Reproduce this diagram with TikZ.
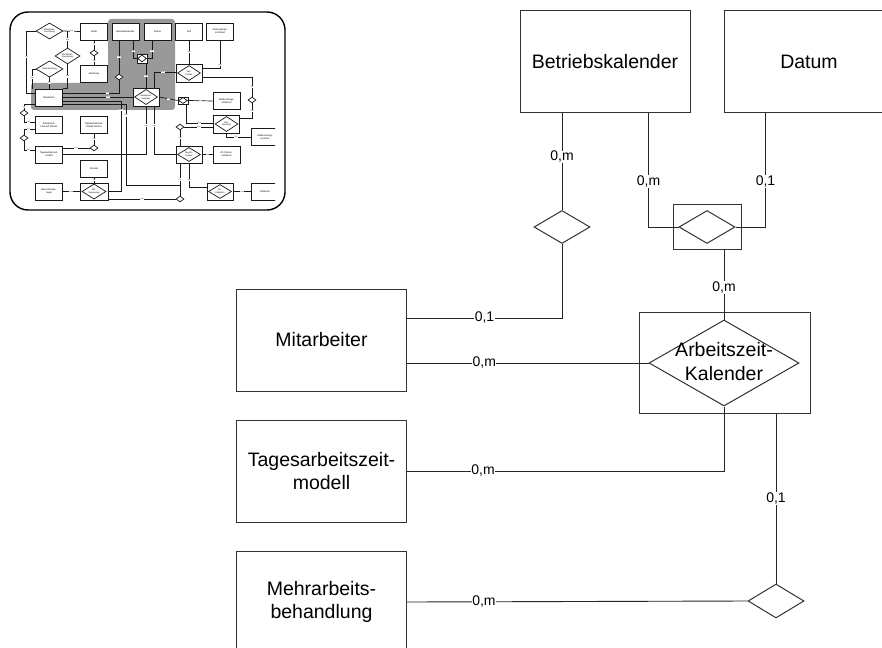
\documentclass[tikz,border=0pt]{standalone}
\usepackage{fontspec}
\setmainfont{Liberation Sans}
\usetikzlibrary{shapes.geometric,calc}
\begin{document}
\begin{tikzpicture}[x=1pt,y=-1pt,
  ent/.style={draw=black!80, line width=1pt, minimum width=170pt, minimum height=102pt, inner sep=0pt, align=center, font=\fontsize{19.5}{23.5}\selectfont},
  rbox/.style={draw=black!80, line width=1pt, inner sep=0pt},
  rdia/.style={draw=black!80, line width=1pt, diamond, inner sep=0pt},
  conn/.style={draw=black!85, line width=0.9pt},
  card/.style={fill=white, inner sep=0.5pt, font=\fontsize{14}{14}\selectfont},
  tbx/.style={draw=black!90, line width=0.8pt, fill=white, minimum width=27pt, minimum height=17pt, inner sep=0pt, align=center, font=\fontsize{2.4}{2.8}\selectfont},
  tdi/.style={draw=black!90, line width=0.7pt, fill=white, diamond, inner sep=0pt, align=center, font=\fontsize{2.2}{2.5}\selectfont},
  tln/.style={draw=black!90, line width=0.7pt},
  tc/.style={fill=white, inner sep=0.4pt, font=\fontsize{1.8}{1.8}\selectfont}]
\useasboundingbox (0,0) rectangle (882,647);
\clip (0,0) rectangle (882,647);
\fill[white] (0,0) rectangle (882,647);

% ---------------- thumbnail ----------------
\fill[black!40, rounded corners=3pt] (108,19) -- (175,19) -- (175,110) -- (31,110) -- (31,83) -- (108,83) -- cycle;

\node[tbx] (tSt) at (94,31.5) {Stelle};
\node[tbx] (tBK) at (125.5,31.5) {Betriebskalender};
\node[tbx] (tDa) at (157.5,31.5) {Datum};
\node[tbx] (tZe) at (189,31.5) {Zeit};
\node[tbx] (tZv) at (220,31.5) {Zeitvorgangs-\\schlüssel};
\node[tbx] (tAb) at (94,73.5) {Abteilung};
\node[tbx] (tMi) at (49,97.5) {Mitarbeiter};
\node[tbx, minimum width=26pt, minimum height=18pt] (tAKb) at (146,97) {};
\node[tdi, minimum width=23pt, minimum height=15pt] (tAK) at (146,97) {Arbeitszeit-\\Kalender};
\node[tbx, minimum width=26pt, minimum height=18pt] (tZPb) at (189,73) {};
\node[tdi, minimum width=23pt, minimum height=15pt] (tZP) at (189,73) {Zeit-\\Posten};
\node[tbx, minimum width=10pt, minimum height=9pt] (tW1) at (142,58.5) {};
\node[tdi, minimum width=9pt, minimum height=7pt] (tW1d) at (142,58.5) {};
\node[tdi, minimum width=8pt, minimum height=6pt] (tD1) at (119,77) {};
\node[tbx] (tZbs) at (226.5,101) {Zeitbuchungs-\\schlüssel};
\node[tbx, minimum width=10pt, minimum height=7pt] (tW2b) at (183,100.5) {};
\node[tdi, minimum width=9pt, minimum height=6pt] (tW2) at (183,100.5) {};
\node[tdi, minimum width=8pt, minimum height=6pt] (tD2) at (252,100) {};
\node[tbx, minimum width=26pt, minimum height=18pt] (tZBb) at (226.5,124) {};
\node[tdi, minimum width=23pt, minimum height=15pt] (tZB) at (226.5,124) {Zeit-\\buchung};
\begin{scope}
\clip (0,0) rectangle (275,647);
\node[tbx, minimum width=28pt] (tZbn) at (265,137) {Zeitbuchungs-\\nummer};
\node[tbx, minimum width=28pt] (tZK) at (265,191.5) {Zeitkonto};
\end{scope}
\node[tdi, minimum width=8pt, minimum height=6pt] (tD3) at (180,127) {};
\node[tbx, minimum width=26pt, minimum height=17pt] (tTZKb) at (189,154.5) {};
\node[tdi, minimum width=23pt, minimum height=14pt] (tTZK) at (189,154.5) {Tag-ZK-\\Posten};
\node[tbx] (tZKs) at (226.5,154.5) {ZK-Posten-\\schlüssel};
\node[tbx, minimum width=26pt, minimum height=17pt] (tZKZb) at (220,191.5) {};
\node[tdi, minimum width=23pt, minimum height=14pt] (tZKZ) at (220,191.5) {ZK-\\Zeitkonto};
\node[tdi, minimum width=8pt, minimum height=6pt] (tD4) at (180,199) {};
\node[tdi, minimum width=27pt, minimum height=16pt] (tGS) at (49.5,31) {Mitarbeiter-\\Zuordnung};
\node[tdi, minimum width=25pt, minimum height=16pt] (tMS) at (67.5,56) {Mit-Stellen-\\Zuordnung};
\node[tdi, minimum width=27pt, minimum height=16pt] (tSV) at (49.5,69) {Stellvertretung};
\node[tdi, minimum width=8pt, minimum height=6pt] (tD5) at (94,53) {};
\node[tbx] (tAIP) at (49,125) {Arbeitszeit-\\Intervall Planen};
\node[tbx] (tTV) at (94,125) {Tagesarbeitszeit-\\modell Version};
\node[tdi, minimum width=8pt, minimum height=6pt] (tD6) at (94,148) {};
\node[tbx] (tTAM) at (49,154.5) {Tagesarbeitszeit-\\modell};
\node[tdi, minimum width=8pt, minimum height=6pt] (tD7) at (24,113) {};
\node[tdi, minimum width=8pt, minimum height=6pt] (tD8) at (24,138) {};
\node[tbx] (tPe) at (94,168.5) {Periode};
\node[tbx] (tBR) at (49,191.5) {Berechnungs-\\regel};
\node[tbx, minimum width=28pt, minimum height=17pt] (tMZb) at (94,191.5) {};
\node[tdi, minimum width=24pt, minimum height=14pt] (tMZ) at (94,191.5) {Mit-\\Zuordnung};

\draw[tln] (tGS.east) -- node[tc]{0,m} (tSt.west);
\draw[tln] (tGS.west) -- ++(-9,0) |- node[tc,pos=.21]{0,1} ($(tMi.west)+(0,-4.5)$);
\draw[tln] (tMS.north) -- node[tc]{0,m} (tMS.north |- tSt.west);
\draw[tln] (tMS.south) |- node[tc,pos=.25]{0,m} (tMi.north east);
\draw[tln] (tSV.west) -| node[tc,pos=.72]{0,m} ($(tMi.north west)+(-3,0)$);
\draw[tln] (tSV.south) -- node[tc]{0,1} (tSV.south |- tMi.north);
\draw[tln] (tSt.south) -- node[tc,pos=.4]{0,1} (tD5.north);
\draw[tln] (tD5.south) -- node[tc,pos=.6]{0,m} (tAb.north);
\draw[tln] (tBK.south -| tD1.north) -- node[tc]{0,m} (tD1.north);
\draw[tln] (tD1.south) |- node[tc,pos=.6]{0,1} ($(tMi.east)+(0,-4.5)$);
\draw[tln] ($(tBK.south east)+(-6,0)$) |- node[tc,pos=.3]{0,m} (tW1.west);
\draw[tln] ($(tDa.south west)+(8.5,0)$) |- node[tc,pos=.3]{0,1} (tW1.east);
\draw[tln] (tAK.north |- tW1.south) -- node[tc]{0,m} (tAK.north);
\draw[tln] ($(tMi.east)+(0,-0.5)$) -- node[tc,pos=.63]{0,m} (tAK.west);
\draw[tln] ($(tMi.east)+(0,3.5)$) -- ++(58,0) |- node[tc,pos=.05]{0,m} (tMZb.east);
\draw[tln] ($(tMi.east)+(0,6.5)$) -- ++(63,0) |- node[tc,pos=.07]{0,m} ($(tD4.north)+(0,-10)$);
\draw[tln] (tAKb.south) |- node[tc,pos=.2]{0,m} (tTAM.east);
\draw[tln] ($(tAKb.south)+(8,0)$) |- node[tc,pos=.2]{0,m} (tTZKb.west);
\draw[tln] ($(tTAM.east)+(0,-6.5)$) -- node[tc]{0,m} (tD6.west);
\draw[tln] (tD6.north) -- node[tc]{0,m} (tTV.south);
\draw[tln] (tD7.north) |- node[tc,pos=.25]{0,m} ($(tMi.west)+(0,6.5)$);
\draw[tln] (tD7.south) |- node[tc,pos=.7]{0,m} ($(tAIP.west)+(0,-3)$);
\draw[tln] (tD8.north) |- node[tc,pos=.7]{0,1} ($(tAIP.west)+(0,4)$);
\draw[tln] (tD8.south) |- node[tc,pos=.7]{0,m} ($(tTAM.west)+(0,-4.5)$);
\draw[tln] (tPe.south) -- node[tc]{0,m} (tMZb.north);
\draw[tln] (tBR.east) -- node[tc]{0,m} (tMZb.west);
\draw[tln] ($(tMZb.east)+(0,7.5)$) -- node[tc]{0,m} (tD4.west);
\draw[tln] (tD4.north) -- node[tc]{0,1} (tD4.north |- tTZKb.south);
\draw[tln] (tTZKb.south) |- node[tc,pos=.35]{0,m} ($(tZKZb.west)+(0,-4)$);
\draw[tln] (tZKZb.east) -- node[tc]{0,m} (tZK.west);
\draw[tln] (tAKb.east) -- node[tc]{0,m} (tW2b.west);
\draw[tln] (tW2b.east) -- node[tc]{0,m} (tZbs.west);
\draw[tln] ($(tW2b.south)+(3,0)$) |- node[tc,pos=.75]{0,m} ($(tZBb.west)+(0,-1)$);
\draw[tln] (tD3.east) -- node[tc]{0,m} ($(tZBb.west)+(0,3)$);
\draw[tln] (tD3.south) -- node[tc]{0,m} (tD3.south |- tTZKb.north);
\draw[tln] (tZe.south) -- node[tc]{0,m} (tZPb.north);
\draw[tln] ($(tZPb.east)+(0,-5)$) -| node[tc,pos=.55]{0,m} (tZv.south);
\draw[tln] ($(tZPb.west)+(0,-1)$) -| node[tc,pos=.3]{0,m} ($(tAKb.north)+(8,0)$);
\draw[tln] ($(tZPb.east)+(0,4)$) -| node[tc,pos=.75]{0,1} (tD2.north);
\draw[tln] (tD2.south) |- node[tc,pos=.25]{0,m} ($(tZBb.east)+(0,-6)$);
\draw[tln] (tZBb.south) |- node[tc,pos=.7]{0,1} (tZbn.west);
\draw[tln] (tTZKb.east) -- node[tc]{0,m} (tZKs.west);

\draw[line width=1.4pt, rounded corners=18pt] (10,12) rectangle (285,210);

% ---------------- main diagram ----------------
\node[ent] (bk) at (605,62) {Betriebskalender};
\node[ent] (dat) at (809,62) {Datum};
\node[ent] (mit) at (321.5,340) {Mitarbeiter};
\node[ent] (tag) at (321.5,471) {Tagesarbeitszeit-\\modell};
\node[ent] (meh) at (321.5,602) {Mehrarbeits-\\behandlung};
\node[rbox, minimum width=171pt, minimum height=101pt] (akbox) at (724.5,362.5) {};
\node[rdia, minimum width=150pt, minimum height=86pt] (ak) at (724,363) {};
\node[align=center, inner sep=0pt, font=\fontsize{19.5}{24}\selectfont] (aktext) at (724,362) {Arbeitszeit-\\Kalender};
\node[rdia, minimum width=56pt, minimum height=33pt] (r1) at (562,227) {};
\node[rbox, minimum width=68pt, minimum height=45pt] (wbox) at (707,226.5) {};
\node[rdia, minimum width=56pt, minimum height=33pt] (wdia) at (707,227) {};
\node[rdia, minimum width=56pt, minimum height=34pt] (r2) at (776,601) {};

\draw[conn] (bk.south -| r1.north) -- node[card,pos=.45]{0,m} (r1.north);
\draw[conn] ($(mit.east)+(0,-22)$) -| node[card,pos=.25]{0,1} (r1.south);
\draw[conn] ($(mit.east)+(0,23)$) -- node[card,pos=.32]{0,m} (ak.west);
\draw[conn] (tag.east) -| node[card,pos=.12]{0,m} (ak.south);
\draw[conn] (meh.east) -- node[card,pos=.226]{0,m} (r2.west);
\draw[conn] (akbox.south -| r2.north) -- node[card,pos=.5]{0,1} (r2.north);
\draw[conn] (ak.north) -- node[card,pos=.46]{0,m} (ak.north |- wbox.south);
\draw[conn] ($(bk.south east)+(-42,0)$) |- node[card,pos=.3]{0,m} (wdia.west);
\draw[conn] ($(dat.south west)+(42,0)$) |- node[card,pos=.3]{0,1} (wdia.east);
\end{tikzpicture}
\end{document}
